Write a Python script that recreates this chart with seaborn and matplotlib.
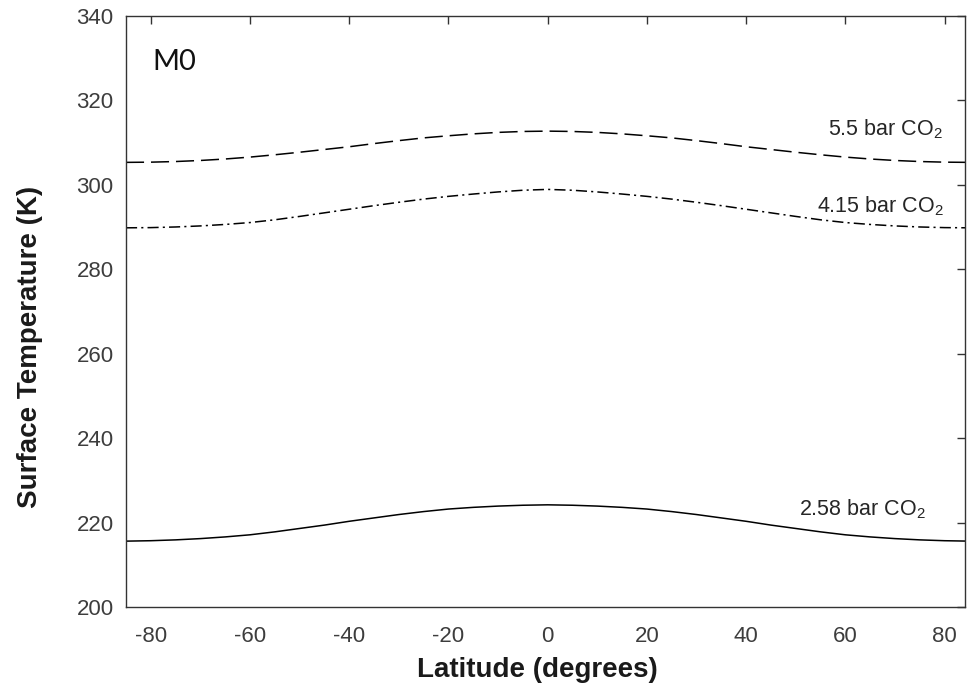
import pandas as pd
import matplotlib
matplotlib.use("Agg")
import matplotlib.pyplot as plt
import seaborn as sns

# latitude samples (degrees) and surface temperature (K)
latitude = [-85, -80, -75, -70, -65, -60, -55, -50, -45, -40, -35, -30, -25, -20, -15, -10, -5, 0,
            5, 10, 15, 20, 25, 30, 35, 40, 45, 50, 55, 60, 65, 70, 75, 80, 85]
temp_55 = [305.3, 305.35, 305.5, 305.75, 306.1, 306.55, 307.1, 307.7, 308.35, 309.0, 309.75,
           310.45, 311.1, 311.6, 312.05, 312.4, 312.62, 312.7,
           312.62, 312.4, 312.05, 311.6, 311.1, 310.45, 309.75, 309.0, 308.35, 307.7, 307.1,
           306.55, 306.1, 305.75, 305.5, 305.35, 305.3]
temp_415 = [289.8, 289.85, 290.0, 290.25, 290.6, 291.05, 291.7, 292.5, 293.35, 294.2, 295.05,
            295.85, 296.6, 297.25, 297.8, 298.3, 298.7, 298.9,
            298.7, 298.3, 297.8, 297.25, 296.6, 295.85, 295.05, 294.2, 293.35, 292.5, 291.7,
            291.05, 290.6, 290.25, 290.0, 289.85, 289.8]
temp_258 = [215.6, 215.7, 215.9, 216.2, 216.6, 217.1, 217.8, 218.6, 219.4, 220.3, 221.1, 221.9,
            222.6, 223.2, 223.6, 223.9, 224.1, 224.2,
            224.1, 223.9, 223.6, 223.2, 222.6, 221.9, 221.1, 220.3, 219.4, 218.6, 217.8, 217.1,
            216.6, 216.2, 215.9, 215.7, 215.6]

series_names = ["5.5 bar CO$_2$", "4.15 bar CO$_2$", "2.58 bar CO$_2$"]
label_pos = [(56.6, 311.6), (54.2, 293.4), (50.6, 221.6)]
x_ticks = [-80, -60, -40, -20, 0, 20, 40, 60, 80]
y_ticks = [200, 220, 240, 260, 280, 300, 320, 340]

sns.set_style("white")
plt.rcParams["font.family"] = ["Liberation Sans", "DejaVu Sans"]
plt.rcParams["mathtext.fontset"] = "custom"
plt.rcParams["mathtext.rm"] = "Liberation Sans"
plt.rcParams["axes.unicode_minus"] = False
plt.rcParams["lines.scale_dashes"] = False

df = pd.DataFrame({
    "lat": latitude * 3,
    "temp": temp_55 + temp_415 + temp_258,
    "run": [series_names[0]] * len(latitude) + [series_names[1]] * len(latitude)
           + [series_names[2]] * len(latitude),
})

fig = plt.figure(figsize=(9.67, 6.89), dpi=100)
ax = fig.add_axes([0.1303, 0.119, 0.868, 0.858])

styles = [(0, (13, 5)), (0, (8, 3, 1.5, 3)), "-"]
for name, ls in zip(series_names, styles):
    sub = df[df["run"] == name]
    sns.lineplot(data=sub, x="lat", y="temp", ax=ax, color="black",
                 linewidth=1.1, linestyle=ls, estimator=None, legend=False)

for name, (x, y) in zip(series_names, label_pos):
    ax.text(x, y, name, fontsize=15.5, color="#262626", ha="left", va="baseline")

ax.text(-79.6, 329.1, "M0", fontsize=21, color="#111111", ha="left", va="center",
        family=["Lato", "DejaVu Sans"])

ax.set_xlim(-85, 84.2)
ax.set_ylim(200, 340)
ax.set_xticks(x_ticks)
ax.set_yticks(y_ticks)
ax.tick_params(direction="in", top=True, right=True, length=6, width=1,
               labelsize=16, colors="#333333", labelcolor="#3d3d3d")
ax.tick_params(axis="x", pad=14)
ax.tick_params(axis="y", pad=9)
for sp in ax.spines.values():
    sp.set_color("#333333")
    sp.set_linewidth(1)
ax.set_xlabel("Latitude (degrees)", fontsize=20, fontweight="bold", color="#1a1a1a")
ax.set_ylabel("Surface Temperature (K)", fontsize=20, fontweight="bold", color="#1a1a1a")
ax.xaxis.set_label_coords(0.49, -0.085)
ax.yaxis.set_label_coords(-0.099, 0.44)

fig.savefig("out.png", dpi=100)
